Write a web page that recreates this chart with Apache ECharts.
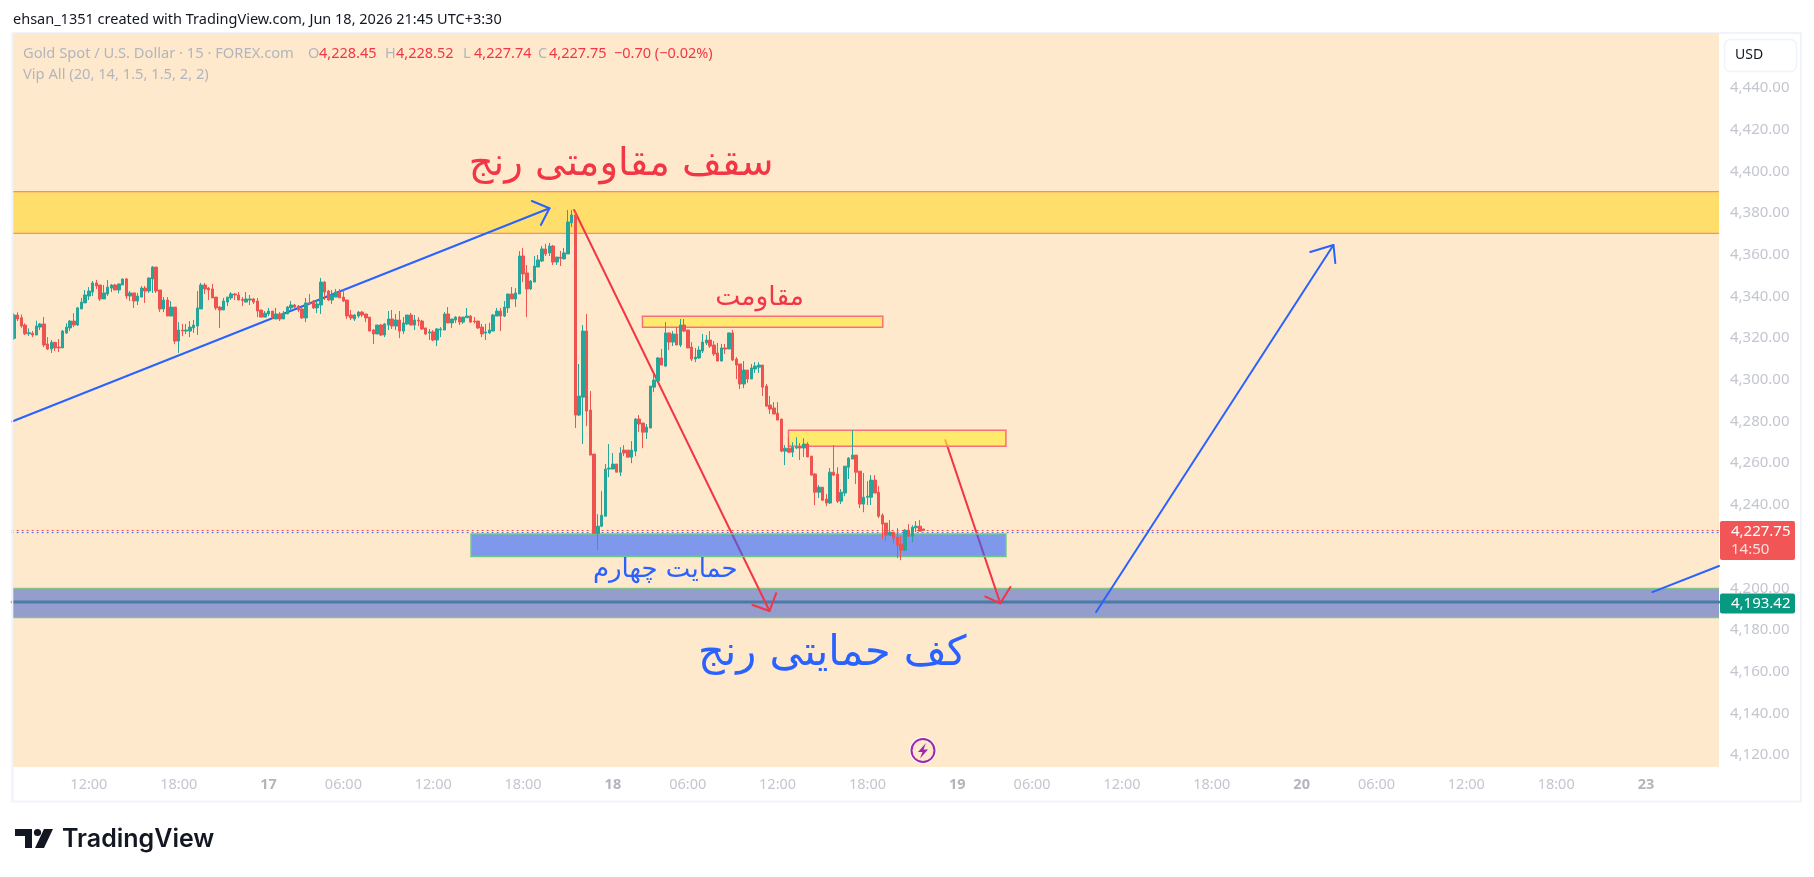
<!DOCTYPE html>
<html><head><meta charset="utf-8">
<style>html,body{margin:0;padding:0;background:#fff}#c{width:1814px;height:877px}</style>
<script src="https://cdn.jsdelivr.net/npm/echarts@6/dist/echarts.min.js"></script>
</head><body><div id="c"></div>
<script>
// open, close, low, high for every 15 minute bar
const bars=[
[4319.9,4331.1,4319.1,4331.9],[4331.1,4329.2,4328.2,4332.4],[4329.8,4325.8,4325,4331.4],[4326.3,4322.1,4321.5,4327.1],
[4322.1,4322.6,4321,4324.7],[4322.3,4321.5,4320.5,4323.4],[4321.5,4325.8,4321.5,4328.4],[4325.3,4326.8,4323.9,4327.3],
[4326.8,4316.7,4315.7,4330.1],[4317.2,4314.8,4314.3,4320.5],[4314.8,4318,4312.9,4319.1],[4318,4315.3,4313.8,4318],
[4315.7,4315.3,4313.3,4319.6],[4315.3,4323.4,4315.3,4323.9],[4322.5,4325.3,4322,4327.1],[4324.9,4328.2,4323.4,4328.7],
[4328.2,4326.3,4325.3,4332],[4326.3,4334.5,4325.8,4335],[4334,4337.3,4334,4339.3],[4336.9,4340.7,4336.9,4343.1],
[4340.2,4342.6,4338.3,4344.5],[4342.1,4346.5,4340.2,4347.4],[4346.5,4345,4343.6,4347.9],[4345.5,4338.8,4337.8,4345.5],
[4338.8,4341.7,4338.8,4345.5],[4341.2,4344.5,4340.2,4347.9],[4344,4345.5,4342.1,4346],[4345.5,4343.1,4343.1,4346],
[4343.1,4346,4341.5,4346],[4345.5,4348.4,4345.5,4348.4],[4348.4,4340.2,4338.8,4348.9],[4340.2,4341.7,4337.8,4342.6],
[4341.7,4337.8,4334.5,4341.7],[4337.8,4340.2,4335.9,4341.7],[4339.7,4344,4339.7,4345],[4344,4342.6,4336.9,4345],
[4342.6,4348.9,4341.7,4348.9],[4348.4,4354.1,4341.7,4354.6],[4354.1,4342.6,4341.7,4354.1],[4343.1,4334,4332.5,4343.1],
[4334,4338.3,4332.5,4339.7],[4338.3,4330.6,4330.6,4339.7],[4330.6,4334.9,4330.6,4337.8],[4334.9,4318.6,4317.2,4334.9],
[4318.6,4323.9,4312.9,4327.7],[4323.9,4323.4,4321,4326.8],[4323.4,4323.9,4322,4326.8],[4323.4,4325.3,4320.5,4328.2],
[4324.9,4326.3,4322.5,4328.7],[4325.8,4334.5,4321.5,4342.6],[4334,4345.5,4334,4346.5],[4345.5,4343.6,4341.2,4346.5],
[4344,4343.1,4338.3,4344.5],[4343.6,4339.3,4339.3,4346],[4339.7,4334.5,4333.5,4339.7],[4334.9,4333.5,4324.9,4335.4],
[4333.5,4337.8,4333.5,4339.3],[4337.3,4339.7,4335.4,4339.7],[4339.3,4341.2,4338.3,4342.1],[4341.2,4340.7,4338.3,4341.7],
[4340.7,4338.3,4338.3,4342.1],[4338.6,4338.1,4335.4,4339.7],[4337.3,4338.8,4337.3,4342.1],[4338.3,4338.8,4335.9,4340.7],
[4338.8,4337.3,4336.4,4339.3],[4337.8,4333,4330.1,4339.3],[4333.5,4330.1,4330.1,4333.5],[4330.1,4332,4330.1,4333],
[4331.6,4333,4330.6,4334.5],[4333,4330.1,4329.2,4333],[4329.2,4331.6,4329.2,4334.5],[4331.6,4329.2,4328.2,4332.5],
[4329.2,4332,4329.2,4333],[4331.6,4334.9,4331.6,4335.4],[4334.5,4335.9,4333.5,4337.8],[4335.9,4334.9,4334.5,4336.4],
[4335.4,4333.5,4332.5,4335.9],[4334,4329.7,4329.2,4334.9],[4329.7,4336.9,4327.7,4339.3],[4336.9,4336.4,4335.9,4341.2],
[4337.8,4334.5,4334,4338.3],[4334.5,4336.4,4332,4338.3],[4335.9,4346.9,4331.6,4348.9],[4346.9,4342.1,4338.3,4347.4],
[4342.6,4338.3,4337.8,4343.1],[4338.3,4340.7,4336.4,4343.1],[4339.7,4342.1,4339.7,4343.6],[4342.1,4339.3,4339.3,4343.6],
[4339.7,4337.8,4337.3,4343.1],[4338.3,4330.6,4329.2,4338.3],[4331.1,4329.7,4328.7,4333.5],[4329.2,4331.1,4328.2,4331.6],
[4330.6,4332.5,4329.7,4333],[4332.5,4331.1,4330.1,4333],[4331.6,4329.7,4327.7,4331.6],[4330.1,4323.4,4323.4,4330.1],
[4323.9,4322,4317.2,4324.4],[4322,4326.3,4322,4326.3],[4326.3,4321.5,4321,4326.8],[4321.5,4326.8,4320.5,4327.3],
[4326.3,4329.2,4323.9,4333],[4329.2,4325.8,4324.4,4333.5],[4325.8,4328.7,4323.9,4331.6],[4328.7,4323.4,4320,4333],
[4323.4,4327.3,4322,4330.1],[4326.8,4331.1,4326.3,4331.1],[4331.1,4326.3,4326.3,4332.1],[4326.3,4328.7,4323.9,4331.1],
[4328.7,4328.2,4325.8,4330.1],[4328.2,4324.4,4323.9,4328.7],[4324.9,4322,4321.5,4324.9],[4322.5,4323,4319.1,4324.4],
[4323,4319.1,4318.6,4323.9],[4319.1,4324.4,4316.2,4324.9],[4323.9,4324.4,4320.5,4325.3],[4323.9,4331.6,4323.9,4332.5],
[4331.6,4327.3,4327.3,4334.9],[4327.3,4329.2,4324.9,4329.2],[4328.7,4330.1,4327.3,4330.6],[4330.1,4327.7,4326.3,4330.6],
[4327.7,4330.1,4326.8,4330.1],[4329.8,4330.6,4329.8,4334.5],[4330.6,4327.7,4327.3,4331.1],[4328.2,4327.9,4327,4330.1],
[4328.2,4324.9,4324.4,4328.2],[4325.3,4322,4320.5,4326.8],[4322.5,4323,4319.1,4326.8],[4322.5,4323.9,4322,4327.3],
[4323.4,4331.1,4323.4,4331.6],[4330.6,4333,4330.6,4334.5],[4333,4330.6,4323.4,4334.5],[4330.6,4334.9,4330.1,4337.8],
[4334.5,4341.2,4332.1,4341.2],[4341.2,4338.8,4338.8,4344.5],[4338.8,4341.7,4335,4344],[4341.2,4359.4,4341.2,4361.8],
[4359.4,4350.8,4346.9,4363.3],[4351.3,4343.6,4330.1,4355.1],[4343.6,4347.4,4343.1,4347.9],[4346.9,4354.6,4346.9,4359.4],
[4354.1,4357.5,4354.1,4359.9],[4357,4362.8,4356.5,4364.2],[4362.8,4360.4,4359.4,4365.2],[4360.9,4364.2,4359.4,4365.7],
[4364.2,4356.5,4355.1,4364.7],[4356.5,4358.9,4355.1,4358.9],[4358.9,4358.3,4354.6,4361.8],[4358,4360.9,4358,4363.3],
[4360.4,4375.7,4360.4,4381.5],[4375.3,4379.1,4373.3,4381.5],[4379.1,4283.1,4276.9,4381],[4283.1,4292.2,4282.6,4307.6],
[4291.7,4323.4,4269.2,4326.3],[4323.4,4285,4277.8,4331.6],[4285.5,4263.9,4263.9,4294.6],[4264.4,4226.3,4226.3,4264.4],
[4226.3,4229.8,4218.3,4235.6],[4229.8,4235.1,4229.3,4246.6],[4234.6,4257.2,4234.6,4259.6],[4257.2,4257.7,4253.3,4269.2],
[4257.2,4259.6,4257.2,4264.9],[4259.6,4255.7,4255.7,4259.6],[4255.7,4264.9,4253.8,4267.7],[4266.3,4264.9,4263.4,4268.7],
[4266.3,4262.9,4262.9,4266.3],[4262.9,4266.3,4260,4270.6],[4265.8,4281.2,4263.4,4281.7],[4281.2,4278.8,4274.9,4283.1],
[4279.3,4274.9,4267.2,4279.3],[4274.9,4277.3,4271.6,4278.8],[4276.9,4297,4276.9,4297],[4296.5,4299.9,4294.1,4302.8],
[4299.4,4310.5,4299.4,4310.9],[4310.5,4307.1,4307.1,4314.8],[4306.6,4322.5,4306.1,4327.7],[4322.5,4318.1,4314.3,4322.5],
[4318.1,4322,4316.2,4323.4],[4322,4316.7,4316.7,4325.3],[4316.7,4326.3,4315.7,4329.2],[4326.3,4323.4,4322.9,4329.2],
[4323.9,4315.3,4315.3,4323.9],[4315.7,4310,4309,4318.1],[4310,4310.9,4308.5,4315.3],[4310.5,4314.3,4310,4316.2],
[4313.8,4318.1,4312.9,4322],[4317.7,4319.1,4316.7,4321.5],[4319.1,4316.2,4315.3,4323.4],[4316.7,4312.4,4311.4,4318.6],
[4312.9,4309,4309,4317.7],[4309,4315.3,4309,4317.2],[4315.3,4314.8,4312.4,4317.2],[4314.8,4322.5,4314.8,4322.5],
[4322.5,4309.5,4309,4323.9],[4310,4307.1,4300.4,4310.9],[4307.6,4298,4295.6,4307.6],[4298,4304.7,4296,4309],
[4304.7,4300.4,4298.5,4304.7],[4300.4,4305.7,4300.4,4307.6],[4305.2,4306.6,4303.3,4308.5],[4306.1,4307.1,4303.3,4308.5],
[4307.1,4296.5,4292.2,4307.1],[4297,4287.4,4286.9,4298],[4287.9,4286,4283.6,4292.2],[4286.5,4283.6,4283.6,4289.3],
[4284,4280.7,4280.7,4289.3],[4281.2,4265.8,4265.3,4281.2],[4265.8,4267.2,4259.1,4268.7],[4267.2,4265.3,4264.9,4272.5],
[4265.3,4267.7,4263,4270.1],[4267.3,4267.7,4266.8,4272.5],[4267.9,4267.3,4261.5,4269.7],[4267.3,4269.2,4263,4272],
[4269.2,4263,4263,4270.1],[4263.4,4254.3,4254.3,4263.4],[4254.8,4246.1,4239.9,4255.3],[4246.1,4248.5,4243.3,4249.5],
[4248.5,4242.3,4241.8,4248.5],[4242.8,4240.9,4239.4,4245.2],[4240.9,4255.7,4240.4,4257.7],[4255.7,4254.3,4253.8,4268.7],
[4254.8,4241.8,4240.9,4258.1],[4241.8,4246.1,4240.4,4247.6],[4245.7,4258.6,4244.2,4258.6],[4258.1,4262.5,4252.4,4262.9],
[4262,4263.9,4262,4275.9],[4263.9,4255.7,4250,4263.9],[4256.2,4240.4,4238.5,4256.2],[4240.4,4243.7,4236.5,4255.3],
[4243.7,4244.2,4239.9,4251.4],[4243.7,4251.9,4239.9,4254.3],[4251.9,4245.7,4245.7,4254.3],[4246.1,4234.6,4233.7,4249],
[4235.1,4230.8,4223.6,4236],[4231.3,4225.5,4222.6,4231.3],[4225.5,4226.9,4225,4232.7],[4226.9,4224.1,4221.6,4226.9],
[4224.5,4220.7,4214.5,4228.9],[4221.2,4218.3,4213.5,4225],[4218.3,4227.9,4217.8,4228.4],[4227.9,4225,4225,4230.8],
[4225,4229.3,4222.1,4230.3],[4229,4229.8,4227,4232.2],[4229.8,4227.4,4227.4,4232.7],[4228.45,4227.75,4227.74,4228.52]
];
const priceTicks=[4120,4140,4160,4180,4200,4220,4240,4260,4280,4300,4320,4340,4360,4380,4400,4420,4440];
const dayLabels=['16','17','18','19','20','23'];
const slotCount=456, firstBarSlot=24;   // 07:00 on the first visible session
const lastPrice=4227.75, supportLine=4193.42, indicatorPrice=4226.7;

// band limits: [first bar, last bar, upper price, lower price]
const ceilingBand=[-0.5,455.5,4390.3,4370.3];
const floorBand=[-0.5,455.5,4200,4186];
const resistanceBoxA=[167.9,232.1,4330.5,4325.2];
const resistanceBoxB=[206.9,265,4275.8,4268.1];
const supportBox=[122.1,265,4226,4215.2];

// drawn trend lines: [bar, price]
const blueRise=[[-0.5,4280],[143.05,4382.3]];
const blueRiseHead=[[138.35,4385.8],[143.05,4382.3],[140.75,4374.3]];
const redDrop=[[149.65,4381.5],[201.85,4189.1]];
const redDropHead=[[197.3,4192],[201.85,4189.1],[203.6,4197.6]];
const redDropB=[[248.8,4271.1],[263.5,4192.8]];
const redDropBHead=[[259.5,4196],[263.5,4192.8],[266.2,4200.6]];
const blueProjection=[[289.1,4188.6],[352.5,4364.7]];
const blueProjectionHead=[[346.3,4361.3],[352.5,4364.7],[353,4356]];
const blueStub=[[437.7,4198.2],[455.5,4210.7]];

const notes=[
 ['سقف مقاومتی رنج',162.2,4403.1],
 ['مقاومت',199.2,4339.2],
 ['حمایت چهارم',174,4208.8],
 ['کف حمایتی رنج',218.6,4168.4]
];
const headerLine='ehsan_1351 created with TradingView.com, Jun 18, 2026 21:45 UTC+3:30';
const legendName='Gold Spot / U.S. Dollar · 15 · FOREX.com';
const legendOhlc=[['O','4,228.45'],['H','4,228.52'],['L','4,227.74'],['C','4,227.75']];
const legendChange='−0.70 (−0.02%)';
const legendIndicator='Vip All (20, 14, 1.5, 1.5, 2, 2)';

const UI='"Noto Sans",sans-serif', RED='#F23645', BLUE='#2962FF', UP='#26A69A', DOWN='#EF5350', GREY='#B2B5BE', AXISC='#C3C6CF';
const fmt=v=>v.toLocaleString('en-US',{minimumFractionDigits:2,maximumFractionDigits:2});

// category labels from the session clock (01:00–24:00, 92 bars per day)
const categories=[];
for(let i=0;i<slotCount;i++){
  const s=i+firstBarSlot, d=Math.floor(s/92), m=60+(s%92)*15;
  const hh=String(Math.floor(m/60)).padStart(2,'0'), mm=String(m%60).padStart(2,'0');
  categories.push(s%92===0?dayLabels[d]:hh+':'+mm);
}
const showTick=(i,v)=>v.length===2||v==='06:00'||v==='12:00'||v==='18:00';

function band(b,fill,stroke,lw,z,sides){
  return {type:'custom',xAxisIndex:1,yAxisIndex:0,z,silent:true,animation:false,data:[b],
    encode:{x:[0,1],y:[2,3]},
    renderItem(p,api){
      const a=api.coord([api.value(0),api.value(2)]), c=api.coord([api.value(1),api.value(3)]);
      const x=a[0],y=a[1],w=c[0]-a[0],h=c[1]-a[1];
      const kids=[{type:'rect',shape:{x,y,width:w,height:h},style:{fill,stroke:sides==='box'?stroke:null,lineWidth:lw}}];
      if(sides==='tb'){
        kids.push({type:'line',shape:{x1:x,y1:y,x2:x+w,y2:y},style:{stroke,lineWidth:lw}});
        kids.push({type:'line',shape:{x1:x,y1:y+h,x2:x+w,y2:y+h},style:{stroke,lineWidth:lw}});
      }
      return {type:'group',children:kids};
    }};
}
const pl=(data,color,w,z,type)=>({type:'line',xAxisIndex:1,yAxisIndex:0,data,showSymbol:false,symbol:'none',silent:true,animation:false,z,
  lineStyle:{color,width:w,type:type||'solid',cap:'round',join:'round'}});
const noteStyle=[{size:38.5,color:RED},{size:26.5,color:RED},{size:26,color:BLUE},{size:41.5,color:BLUE}];
const noteSeries={type:'custom',xAxisIndex:1,yAxisIndex:0,z:8,silent:true,animation:false,
  data:notes.map((n,k)=>[n[1],n[2],k]),encode:{x:0,y:1},
  renderItem(p,api){
    const c=api.coord([api.value(0),api.value(1)]),k=api.value(2);
    return {type:'text',x:c[0],y:c[1],style:{text:notes[k][0],fontSize:noteStyle[k].size,fontFamily:'"DejaVu Sans",sans-serif',fill:noteStyle[k].color,align:'center',verticalAlign:'middle'}};
  }};
const tagSeries={type:'custom',xAxisIndex:1,yAxisIndex:0,z:20,silent:true,animation:false,
  data:[[455.5,lastPrice,0],[455.5,supportLine,1]],encode:{x:0,y:1},
  renderItem(p,api){
    const k=api.value(2), c=api.coord([api.value(0),api.value(1)]), x=c[0]+1,y=c[1];
    if(k===0) return {type:'group',children:[
      {type:'rect',shape:{x,y:y-9.5,width:75,height:39,r:2},style:{fill:'#F25555'}},
      {type:'text',x:x+11,y:y+1,style:{text:fmt(lastPrice),fontSize:15,fontFamily:UI,fill:'#fff',verticalAlign:'middle'}},
      {type:'text',x:x+11,y:y+19,style:{text:'14:50',fontSize:15,fontFamily:UI,fill:'#fff',opacity:.8,verticalAlign:'middle'}}]};
    return {type:'group',children:[
      {type:'rect',shape:{x,y:y-8.5,width:75,height:20,r:2},style:{fill:'#089981'}},
      {type:'text',x:x+11,y:y+1.5,style:{text:fmt(supportLine),fontSize:15,fontFamily:UI,fill:'#fff',verticalAlign:'middle'}}]};
  }};

const t=(x,y,text,fill,size,extra)=>({type:'text',x,y,z:30,silent:true,style:Object.assign({text,fill,fontSize:size,fontFamily:UI,verticalAlign:'middle'},extra||{})});
const legendX=[308,385,463,538];
const graphics=[
 {type:'rect',z:-1,silent:true,shape:{x:12.5,y:33,width:1788.5,height:768.5},style:{fill:'#fff',stroke:'#F0F3FA',lineWidth:2}},
 {type:'rect',z:30,silent:true,shape:{x:11.5,y:33,width:1.8,height:768},style:{fill:'#F0F3FA'}},
 t(13,20,headerLine,'#131722',14.5),
 t(23,54,legendName,GREY,14.7),
 t(23,75,legendIndicator,GREY,14.7),
 t(614,54,legendChange,'#F23645',14.5),
 {type:'rect',z:30,silent:true,shape:{x:1724.5,y:39.5,width:72,height:32,r:6},style:{fill:'#fff',stroke:'#F0F3FA',lineWidth:1.5}},
 t(1735,55.5,'USD','#131722',14),
 // bolt badge
 {type:'circle',z:30,silent:true,shape:{cx:923,cy:750.5,r:13.5},style:{fill:'#fff'}},
 {type:'circle',z:30,silent:true,shape:{cx:923,cy:750.5,r:11.5},style:{fill:'#FFE9CC',stroke:'#9C27B0',lineWidth:2}},
 {type:'polygon',z:31,silent:true,shape:{points:[[926,743],[918,752],[922.5,752],[920,758.5],[928,749.5],[923.5,749.5]]},style:{fill:'#9C27B0'}},
 // TradingView mark
 {type:'polygon',z:30,silent:true,shape:{points:[[15,829],[32,829],[32,848],[25,848],[25,836],[15,836]]},style:{fill:'#131722'}},
 {type:'circle',z:30,silent:true,shape:{cx:37.5,cy:832.5,r:3.6},style:{fill:'#131722'}},
 {type:'polygon',z:30,silent:true,shape:{points:[[44,829],[53,829],[44,848],[35,848]]},style:{fill:'#131722'}},
 t(62,839,'TradingView','#131722',25,{fontFamily:'Inter,sans-serif',fontWeight:600})
];
legendOhlc.forEach((o,k)=>{graphics.push(t(legendX[k],54,o[0],GREY,14.5));graphics.push(t(legendX[k]+11,54,o[1],'#F23645',14.5));});

const chart=echarts.init(document.getElementById('c'),null,{renderer:'canvas'});
chart.setOption({
 animation:false,backgroundColor:'#fff',
 grid:{left:12.13,top:33,width:1706.87,height:734,show:true,backgroundColor:'#FFE9CC',borderWidth:0},
 xAxis:[
  {type:'category',data:categories,boundaryGap:true,axisLine:{show:false},axisTick:{show:false},splitLine:{show:false},
   axisLabel:{interval:showTick,margin:10,fontFamily:UI,fontSize:14.5,color:AXISC,hideOverlap:false,
    formatter:v=>v.length===2?'{d|'+v+'}':v,rich:{d:{fontWeight:'bold',fontSize:14.5,fontFamily:UI,color:'#B2B5BE'}}}},
  {type:'value',min:-0.5,max:455.5,show:false}
 ],
 yAxis:{type:'value',position:'right',min:4114.28,max:4466.38,axisLine:{show:false},axisTick:{show:false},splitLine:{show:false},
   axisLabel:{customValues:priceTicks,margin:11,fontFamily:UI,fontSize:15,color:AXISC,formatter:v=>fmt(v)}},
 graphic:graphics,
 series:[
  band(ceilingBand,'#FFDE6C','#FF8A65',1.3,2,'tb'),
  band(floorBand,'#949DCB','#86C38A',1.3,2,'tb'),
  pl([[-0.5,supportLine],[455.5,supportLine]],'#4A7CA8',3,3),
  pl([[-0.5,indicatorPrice],[455.5,indicatorPrice]],'#2962FF',1,3,[1,4]),
  pl([[-0.5,lastPrice],[455.5,lastPrice]],'#F23645',1,3,[1,4]),
  pl(blueRise,BLUE,2,4),pl(blueRiseHead,BLUE,2,4),
  pl(redDrop,RED,2,4),pl(redDropHead,RED,2,4),
  pl(redDropB,RED,2,4),pl(redDropBHead,RED,2,4),
  pl(blueProjection,BLUE,2,4),pl(blueProjectionHead,BLUE,2,4),
  pl(blueStub,BLUE,2,4),
  band(resistanceBoxA,'rgba(255,235,59,.65)','#F6707A',1.5,5,'box'),
  band(resistanceBoxB,'rgba(255,235,59,.65)','#F6707A',1.5,5,'box'),
  band(supportBox,'rgba(41,98,255,.6)','#6EC68A',1.5,5,'box'),
  {type:'candlestick',xAxisIndex:0,yAxisIndex:0,z:6,silent:true,animation:false,barWidth:3,data:bars,
   itemStyle:{color:UP,color0:DOWN,borderColor:UP,borderColor0:DOWN,borderWidth:1}},
  noteSeries,tagSeries
 ]
});
</script></body></html>
